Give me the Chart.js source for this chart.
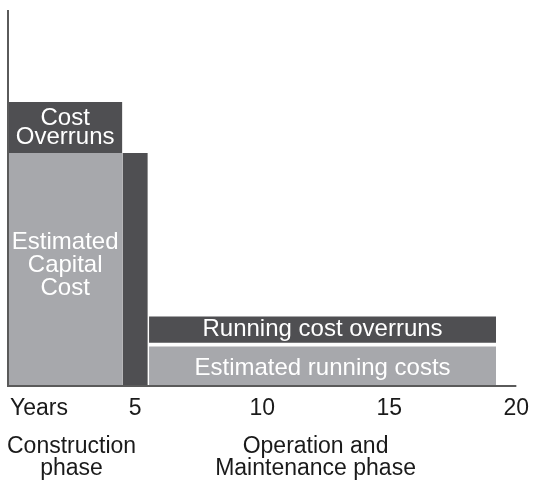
<!DOCTYPE html>
<html>
<head>
<meta charset="utf-8">
<script src="https://cdn.jsdelivr.net/npm/chart.js@4"></script>
<style>
  html, body { margin: 0; padding: 0; background: #fff; }
  #wrap { width: 557px; height: 482px; }
</style>
</head>
<body>
<div id="wrap"><canvas id="costChart"></canvas></div>
<script>
// blocks: start/end in years, bottom/top in cost units
const blockNames = ['Estimated Capital Cost', 'Cost Overruns', 'Construction delay', 'Estimated running costs', 'Running cost overruns'];
const blockText = [['Estimated', 'Capital', 'Cost'], ['Cost', 'Overruns'], [], ['Estimated running costs'], ['Running cost overruns']];
const blockStart = [0, 0, 4.5, 5.55, 5.55];
const blockEnd = [4.5, 4.5, 5.5, 19.2, 19.2];
const blockBottom = [0, 62, 0, 0, 11.5];
const blockTop = [62, 75.5, 62, 10.5, 18.5];
const blockDark = [false, true, true, false, true];

const yearTicks = [5, 10, 15, 20];
const phaseNames = [['Construction', 'phase'], ['Operation and', 'Maintenance phase']];
const phaseStart = [0, 5];
const phaseEnd = [5, 19.2];

const DARK = '#4f4f52';
const LIGHT = '#a7a8ac';
const FAMILY = '"Liberation Sans", Arial, sans-serif';
// text layout tweaks per block (line height, vertical nudge)
const LINE_H = [23, 19, 0, 0, 0];
const NUDGE_Y = [-4, 0, 0, 2, 0];

const datasets = blockNames.map((name, i) => ({
  label: name,
  data: [{x: blockStart[i], y: blockTop[i]}, {x: blockEnd[i], y: blockTop[i]}],
  fill: {value: blockBottom[i]},
  backgroundColor: blockDark[i] ? DARK : LIGHT,
  borderWidth: 0,
  pointRadius: 0,
  tension: 0
}));

const textPlugin = {
  id: 'textPlugin',
  afterDatasetsDraw(chart) {
    const ctx = chart.ctx;
    const xs = chart.scales.x, ys = chart.scales.y;
    ctx.save();

    // axis lines
    ctx.strokeStyle = '#5a5a5a';
    ctx.lineWidth = 2;
    ctx.beginPath();
    ctx.moveTo(xs.getPixelForValue(0), ys.getPixelForValue(100));
    ctx.lineTo(xs.getPixelForValue(0), ys.getPixelForValue(0));
    ctx.lineTo(xs.getPixelForValue(20), ys.getPixelForValue(0));
    ctx.stroke();

    ctx.textAlign = 'center';
    ctx.textBaseline = 'middle';

    // labels inside the blocks
    ctx.font = '24px ' + FAMILY;
    ctx.fillStyle = '#ffffff';
    blockText.forEach((lines, i) => {
      if (!lines.length) return;
      const cx = xs.getPixelForValue((blockStart[i] + blockEnd[i]) / 2);
      const cy = ys.getPixelForValue((blockBottom[i] + blockTop[i]) / 2) + NUDGE_Y[i];
      lines.forEach((t, j) => {
        ctx.fillText(t, cx, cy + (j - (lines.length - 1) / 2) * LINE_H[i]);
      });
    });

    // year ticks
    ctx.font = '23px ' + FAMILY;
    ctx.fillStyle = '#1a1a1a';
    const tickY = ys.getPixelForValue(0) + 23;
    ctx.textAlign = 'left';
    ctx.fillText('Years', xs.left + 2, tickY);
    ctx.textAlign = 'center';
    yearTicks.forEach(v => ctx.fillText(String(v), xs.getPixelForValue(v), tickY));

    // phase names
    phaseNames.forEach((lines, i) => {
      const cx = xs.getPixelForValue((phaseStart[i] + phaseEnd[i]) / 2);
      lines.forEach((t, j) => ctx.fillText(t, cx, tickY + 38 + j * 22));
    });
    ctx.restore();
  }
};

new Chart(document.getElementById('costChart'), {
  type: 'line',
  data: { datasets },
  options: {
    responsive: true,
    maintainAspectRatio: false,
    animation: false,
    layout: { padding: { left: 8, right: 0, top: 10, bottom: 96 } },
    plugins: { legend: { display: false }, tooltip: { enabled: false } },
    scales: {
      x: { type: 'linear', min: 0, max: 21.6, display: false },
      y: { min: 0, max: 100, display: false }
    }
  },
  plugins: [textPlugin]
});
</script>
</body>
</html>
